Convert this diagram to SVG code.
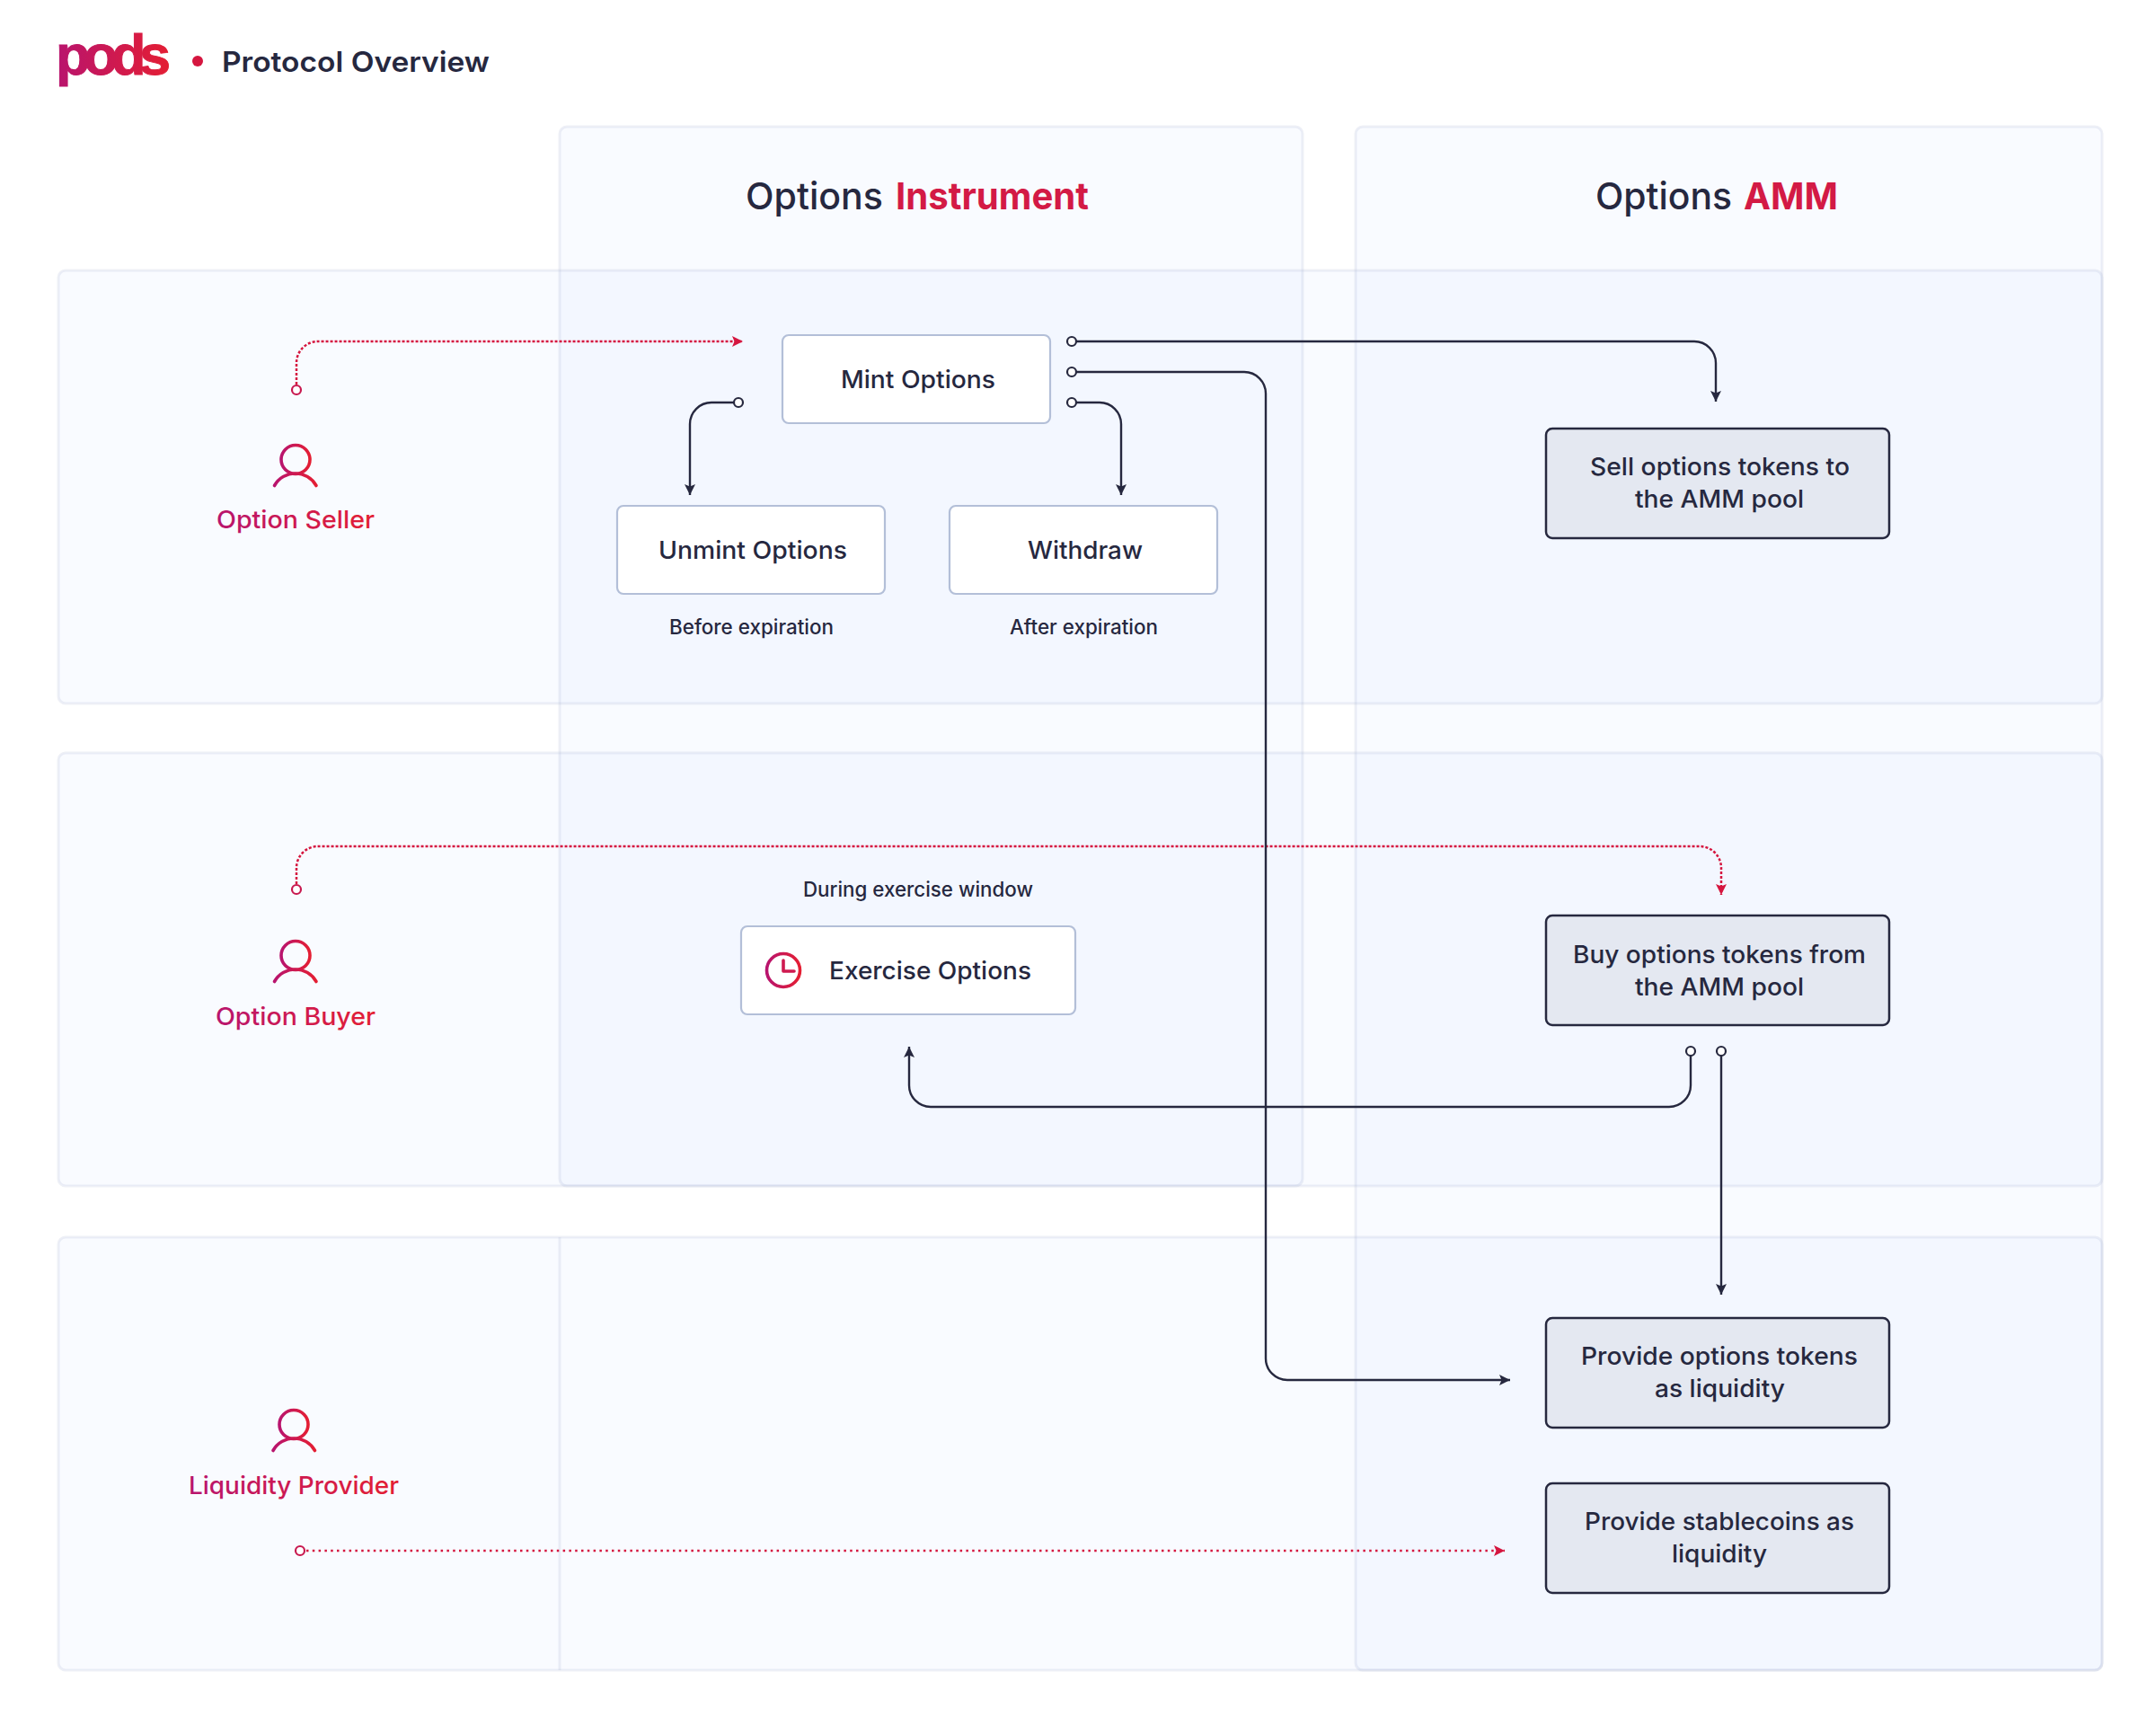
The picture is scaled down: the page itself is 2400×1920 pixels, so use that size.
<svg xmlns="http://www.w3.org/2000/svg" width="2400" height="1920" viewBox="0 0 2400 1920">
<style>
text{font-family:"Inter","Liberation Sans",sans-serif;fill:#26283f}
.panel{fill:#2864fa;fill-opacity:.0255;stroke:#aab4d2;stroke-opacity:.2;stroke-width:3}
.plain{fill:#fff;stroke:#b3bfd8;stroke-width:2.2}
.filled{fill:#e4e8f1;stroke:#26283f;stroke-width:2.5}
.lbl{font-size:27.500px;font-weight:500}
.note{font-size:22.500px;font-weight:500}
.head{font-size:41.500px;font-weight:500}
.accent{fill:#d31a45;font-weight:700}
.role{font-size:27.500px;font-weight:500;fill:url(#g)}
.ico{fill:none;stroke:url(#g);stroke-width:3.6;stroke-linecap:round}
.dark{fill:none;stroke:#26283f;stroke-width:2.4;marker-end:url(#ad)}
.red{fill:none;stroke:#d5163f;stroke-width:2.5;stroke-dasharray:3 2;marker-end:url(#ar)}
.dot{fill:#fff;stroke:#26283f;stroke-width:2.2}
.rdot{fill:#fff;stroke:#c8184f;stroke-width:2.2}
</style>
<defs>
<linearGradient id="g" x1="0" y1="0" x2="1" y2="0"><stop offset="0" stop-color="#b8146e"/><stop offset="1" stop-color="#e41e33"/></linearGradient>
<marker id="ad" markerUnits="userSpaceOnUse" markerWidth="12" markerHeight="12" refX="12" refY="6" orient="auto"><path d="M0 0L12 6L0 12L2.5 6Z" fill="#26283f"/></marker>
<marker id="ar" markerUnits="userSpaceOnUse" markerWidth="12" markerHeight="12" refX="12" refY="6" orient="auto"><path d="M0 0L12 6L0 12L2.5 6Z" fill="#d5163f"/></marker>
</defs>
<rect width="2400" height="1920" fill="#fff"/>
<g id="panels">
<rect class="panel" x="623" y="141" width="827" height="1179" rx="8"/>
<rect class="panel" x="1509" y="141" width="831" height="1718" rx="8"/>
<rect class="panel" x="65" y="301" width="2275" height="482" rx="8"/>
<rect class="panel" x="65" y="838" width="2275" height="482" rx="8"/>
<rect class="panel" x="65" y="1377" width="2275" height="482" rx="8"/>
<path d="M623 1377V1859" fill="none" stroke="#aab4d2" stroke-opacity=".2" stroke-width="3"/>
</g>
<g id="header">
<text x="62" y="83" font-size="63" font-weight="700" textLength="128" lengthAdjust="spacing" style="font-family:'Liberation Sans',sans-serif;fill:url(#g);stroke:url(#g);stroke-width:1">pods</text>
<circle cx="220" cy="68" r="6" fill="#d5163f"/>
<text x="247" y="79.500" font-size="31.500" font-weight="600" textLength="298" lengthAdjust="spacingAndGlyphs">Protocol Overview</text>
</g>
<g id="col-instrument"><text class="head" y="232.500"><tspan x="830" textLength="153" lengthAdjust="spacingAndGlyphs">Options</tspan> <tspan class="accent" x="997" textLength="215" lengthAdjust="spacingAndGlyphs">Instrument</tspan></text></g>
<g id="col-amm"><text class="head" y="232.500"><tspan x="1776" textLength="152" lengthAdjust="spacingAndGlyphs">Options</tspan> <tspan class="accent" x="1941" textLength="105" lengthAdjust="spacingAndGlyphs">AMM</tspan></text></g>
<g id="connectors">
<path class="red" d="M330 428V404A24 24 0 0 1 354 380H827"/>
<path class="red" d="M330 984V966A24 24 0 0 1 354 942H1892A24 24 0 0 1 1916 966V996"/>
<path class="red" style="stroke-dasharray:2.500 4.300" d="M341 1726H1675"/>
<path class="dark" d="M1198 380H1886A24 24 0 0 1 1910 404V447"/>
<path class="dark" d="M1198 414H1385A24 24 0 0 1 1409 438V1512A24 24 0 0 0 1433 1536H1681"/>
<path class="dark" d="M1198 448H1224A24 24 0 0 1 1248 472V551"/>
<path class="dark" d="M817 448H792A24 24 0 0 0 768 472V551"/>
<path class="dark" d="M1882 1175V1208A24 24 0 0 1 1858 1232H1036A24 24 0 0 1 1012 1208V1165"/>
<path class="dark" d="M1916 1175V1441"/>
<circle class="rdot" cx="330" cy="434" r="5"/>
<circle class="rdot" cx="330" cy="990" r="5"/>
<circle class="rdot" cx="334" cy="1726" r="5"/>
<circle class="dot" cx="1193" cy="380" r="5"/>
<circle class="dot" cx="1193" cy="414" r="5"/>
<circle class="dot" cx="1193" cy="448" r="5"/>
<circle class="dot" cx="822" cy="448" r="5"/>
<circle class="dot" cx="1882" cy="1170" r="5"/>
<circle class="dot" cx="1916" cy="1170" r="5"/>
</g>
<g id="option-seller">
<circle class="ico" cx="329" cy="511.500" r="16"/><path class="ico" d="M305.500 540.500A26.700 26.700 0 0 1 352 540.500"/>
<text class="role" x="241" y="588" textLength="176" lengthAdjust="spacingAndGlyphs">Option Seller</text>
</g>
<g id="option-buyer">
<circle class="ico" cx="329" cy="1063.500" r="16"/><path class="ico" d="M305.500 1092.500A26.700 26.700 0 0 1 352 1092.500"/>
<text class="role" x="240" y="1141" textLength="178" lengthAdjust="spacingAndGlyphs">Option Buyer</text>
</g>
<g id="liquidity-provider">
<circle class="ico" cx="327" cy="1585.500" r="16"/><path class="ico" d="M304 1614.500A26.700 26.700 0 0 1 350.500 1614.500"/>
<text class="role" x="210" y="1663" textLength="234" lengthAdjust="spacingAndGlyphs">Liquidity Provider</text>
</g>
<g id="mint"><rect class="plain" x="871" y="373" width="298" height="98" rx="7"/><text class="lbl" x="936" y="432" textLength="172" lengthAdjust="spacingAndGlyphs">Mint Options</text></g>
<g id="unmint"><rect class="plain" x="687" y="563" width="298" height="98" rx="7"/><text class="lbl" x="733" y="622" textLength="210" lengthAdjust="spacingAndGlyphs">Unmint Options</text><text class="note" x="745" y="706" textLength="183" lengthAdjust="spacingAndGlyphs">Before expiration</text></g>
<g id="withdraw"><rect class="plain" x="1057" y="563" width="298" height="98" rx="7"/><text class="lbl" x="1144" y="622" textLength="128" lengthAdjust="spacingAndGlyphs">Withdraw</text><text class="note" x="1124" y="706" textLength="165" lengthAdjust="spacingAndGlyphs">After expiration</text></g>
<g id="exercise">
<text class="note" x="894" y="998" textLength="256" lengthAdjust="spacingAndGlyphs">During exercise window</text>
<rect class="plain" x="825" y="1031" width="372" height="98" rx="7"/>
<circle class="ico" cx="872" cy="1080" r="18.500"/><path d="M872 1069V1081H884" fill="none" stroke="#cf1a50" stroke-width="3.600" stroke-linecap="round" stroke-linejoin="round"/>
<text class="lbl" x="923" y="1090" textLength="225" lengthAdjust="spacingAndGlyphs">Exercise Options</text>
</g>
<g id="sell"><rect class="filled" x="1721" y="477" width="382" height="122" rx="7"/><text class="lbl" x="1770" y="529" textLength="289" lengthAdjust="spacingAndGlyphs">Sell options tokens to</text><text class="lbl" x="1820" y="565" textLength="188" lengthAdjust="spacingAndGlyphs">the AMM pool</text></g>
<g id="buy"><rect class="filled" x="1721" y="1019" width="382" height="122" rx="7"/><text class="lbl" x="1751" y="1072" textLength="326" lengthAdjust="spacingAndGlyphs">Buy options tokens from</text><text class="lbl" x="1820" y="1108" textLength="188" lengthAdjust="spacingAndGlyphs">the AMM pool</text></g>
<g id="provide-tokens"><rect class="filled" x="1721" y="1467" width="382" height="122" rx="7"/><text class="lbl" x="1760" y="1519" textLength="308" lengthAdjust="spacingAndGlyphs">Provide options tokens</text><text class="lbl" x="1842" y="1555" textLength="145" lengthAdjust="spacingAndGlyphs">as liquidity</text></g>
<g id="provide-stable"><rect class="filled" x="1721" y="1651" width="382" height="122" rx="7"/><text class="lbl" x="1764" y="1703" textLength="300" lengthAdjust="spacingAndGlyphs">Provide stablecoins as</text><text class="lbl" x="1861" y="1739" textLength="106" lengthAdjust="spacingAndGlyphs">liquidity</text></g>
</svg>
